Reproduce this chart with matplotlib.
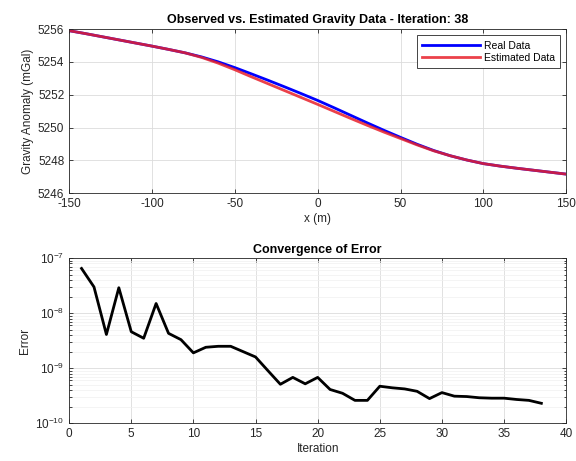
import matplotlib.pyplot as plt
from matplotlib.ticker import LogLocator, NullFormatter

plt.rcParams["font.family"] = ["Liberation Sans", "DejaVu Sans"]
plt.rcParams["axes.unicode_minus"] = False

# gravity profile, read every 10 m
x_m = [-150, -140, -130, -120, -110, -100, -90, -80, -70, -60, -50, -40, -30, -20, -10,
       0, 10, 20, 30, 40, 50, 60, 70, 80, 90, 100, 110, 120, 130, 140, 150]
real_data = [5255.90, 5255.72, 5255.53, 5255.34, 5255.15, 5254.96, 5254.76, 5254.55,
             5254.30, 5254.00, 5253.65, 5253.27, 5252.88, 5252.48, 5252.07, 5251.65,
             5251.20, 5250.74, 5250.28, 5249.83, 5249.40, 5248.98, 5248.60, 5248.28,
             5248.02, 5247.80, 5247.65, 5247.52, 5247.40, 5247.28, 5247.16]
est_data = [5255.90, 5255.72, 5255.53, 5255.34, 5255.15, 5254.96, 5254.76, 5254.55,
            5254.27, 5253.92, 5253.52, 5253.09, 5252.67, 5252.25, 5251.83, 5251.41,
            5250.98, 5250.55, 5250.13, 5249.72, 5249.33, 5248.94, 5248.58, 5248.28,
            5248.02, 5247.80, 5247.65, 5247.52, 5247.40, 5247.28, 5247.16]

# error per iteration
iterations = list(range(1, 39))
errors = [6.5e-8, 3.0e-8, 4.1e-9, 2.9e-8, 4.6e-9, 3.5e-9, 1.5e-8, 4.3e-9, 3.3e-9, 1.9e-9,
          2.4e-9, 2.5e-9, 2.5e-9, 2.0e-9, 1.6e-9, 9.0e-10, 5.1e-10, 6.8e-10, 5.2e-10, 6.8e-10,
          4.1e-10, 3.5e-10, 2.6e-10, 2.6e-10, 4.7e-10, 4.4e-10, 4.2e-10, 3.8e-10, 2.8e-10, 3.6e-10,
          3.1e-10, 3.05e-10, 2.9e-10, 2.85e-10, 2.85e-10, 2.7e-10, 2.6e-10, 2.3e-10]

axis_gray = "#262626"
grid_gray = "#dcdcdc"


def style_axes(ax):
    for s in ax.spines.values():
        s.set_color(axis_gray)
        s.set_linewidth(0.6)
    ax.tick_params(direction="in", which="both", top=True, right=True,
                   colors=axis_gray, labelsize=8.5, length=3, width=0.6)
    ax.tick_params(which="minor", length=1.8)
    ax.grid(True, color=grid_gray, linewidth=0.6)
    ax.set_axisbelow(True)


fig = plt.figure(figsize=(5.76, 4.61), dpi=100)

ax1 = fig.add_axes([0.12, 0.581, 0.863, 0.356])
ax1.plot(x_m, real_data, color="#0000ff", linewidth=2, label="Real Data")
ax1.plot(x_m, est_data, color="#e8202a", linewidth=2, label="Estimated Data", alpha=0.85)
ax1.set_xlim(-150, 150)
ax1.set_ylim(5246, 5256)
ax1.set_xticks(range(-150, 151, 50))
ax1.set_yticks(range(5246, 5257, 2))
style_axes(ax1)
ax1.set_xlabel("x (m)", fontsize=8.5, color=axis_gray, labelpad=2)
ax1.set_ylabel("Gravity Anomaly (mGal)", fontsize=8.5, color=axis_gray, labelpad=3)
ax1.set_title("Observed vs. Estimated Gravity Data - Iteration: 38",
              fontsize=9, fontweight="bold", pad=4)
leg = ax1.legend(loc="upper right", fontsize=7.5, fancybox=False, framealpha=1,
                 edgecolor=axis_gray, handlelength=5.5, borderpad=0.5,
                 labelspacing=0.2, handletextpad=0.4, borderaxespad=0.6)
leg.get_frame().set_linewidth(0.6)

ax2 = fig.add_axes([0.12, 0.082, 0.863, 0.358])
ax2.semilogy(iterations, errors, color="black", linewidth=2)
ax2.set_xlim(0, 40)
ax2.set_ylim(1e-10, 1e-7)
ax2.set_xticks(range(0, 41, 5))
ax2.yaxis.set_major_locator(LogLocator(base=10, numticks=10))
ax2.yaxis.set_minor_locator(LogLocator(base=10, subs=range(2, 10), numticks=10))
ax2.yaxis.set_minor_formatter(NullFormatter())
style_axes(ax2)
ax2.grid(True, which="minor", axis="y", color="#f0f0f0", linewidth=0.5)
ax2.set_xlabel("Iteration", fontsize=8.5, color=axis_gray, labelpad=2)
ax2.set_ylabel("Error", fontsize=8.5, color=axis_gray, labelpad=3)
ax2.set_title("Convergence of Error", fontsize=9, fontweight="bold", pad=4)

fig.savefig("out.png", dpi=100)
